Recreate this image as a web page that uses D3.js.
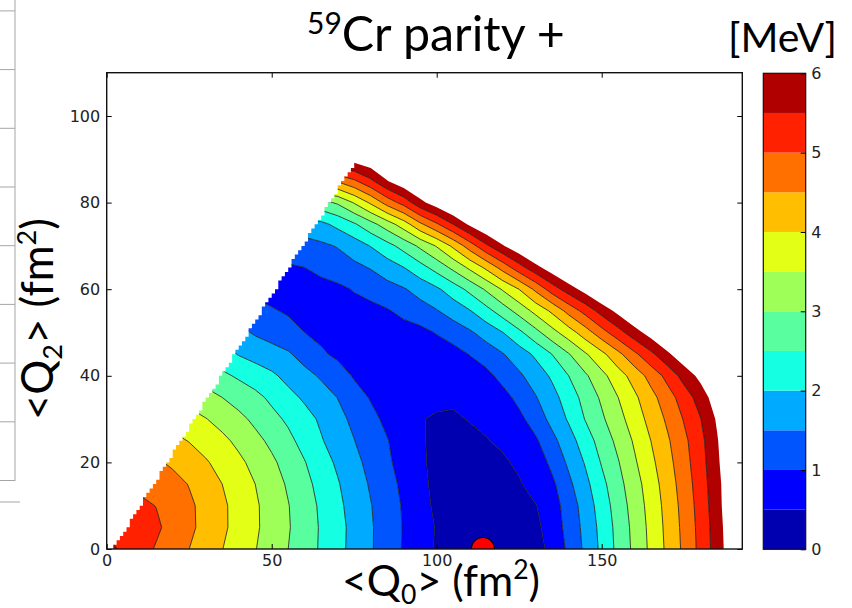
<!DOCTYPE html>
<html>
<head>
<meta charset="utf-8">
<script src="https://cdn.jsdelivr.net/npm/d3@7"></script>
<style>
  body { margin: 0; background: #fff; }
  svg { display: block; }
</style>
</head>
<body>
<svg id="chart" width="852" height="608"></svg>
<script>
// ---------------- data ----------------

// mesh of the energy surface (fm^2)
const q0Grid = [0, 5, 10, 15, 20, 25, 30, 35, 40, 45, 50, 55, 60, 65, 70, 75, 80, 85, 90, 95,
                100, 105, 110, 115, 120, 125, 130, 135, 140, 145, 150, 155, 160, 165, 170, 175, 180, 185, 190];
const q2Grid = [0, 5, 10, 15, 20, 25, 30, 35, 40, 45, 50, 55, 60, 65, 70, 75, 80, 85, 90];

// energy (MeV), one array per <Q2> row, going along <Q0>
const eQ2_00 = [5.65,5.42,5.19,4.96,4.73,4.50,4.26,4.01,3.77,3.52,3.26,3.00,2.72,2.44,2.14,1.85,1.55,1.24,0.96,0.70,0.45,0.20,0.07,0.04,0.08,0.15,0.27,0.68,1.09,1.60,2.11,2.64,3.12,3.62,4.11,4.61,5.15,5.74,6.40];
const eQ2_05 = [5.41,5.37,5.28,5.08,4.84,4.60,4.35,4.09,3.83,3.57,3.31,3.04,2.74,2.45,2.15,1.86,1.55,1.26,0.97,0.70,0.47,0.22,0.09,0.06,0.10,0.18,0.38,0.75,1.15,1.65,2.15,2.67,3.15,3.65,4.14,4.64,5.17,5.76,6.45];
const eQ2_10 = [5.20,5.17,5.10,4.99,4.81,4.58,4.36,4.09,3.82,3.57,3.29,3.02,2.72,2.42,2.11,1.81,1.52,1.24,0.95,0.65,0.42,0.24,0.13,0.10,0.15,0.28,0.48,0.78,1.22,1.72,2.23,2.74,3.21,3.70,4.18,4.68,5.21,5.81,6.50];
const eQ2_15 = [4.99,4.96,4.89,4.79,4.65,4.48,4.24,4.00,3.75,3.50,3.22,2.94,2.64,2.34,2.04,1.73,1.45,1.18,0.89,0.58,0.42,0.27,0.18,0.16,0.26,0.45,0.73,0.90,1.39,1.86,2.36,2.84,3.30,3.77,4.25,4.74,5.26,5.84,6.50];
const eQ2_20 = [4.72,4.70,4.65,4.56,4.43,4.25,4.05,3.83,3.60,3.36,3.09,2.81,2.52,2.21,1.92,1.63,1.36,1.08,0.82,0.55,0.42,0.33,0.27,0.29,0.42,0.60,0.70,1.13,1.59,2.04,2.54,2.97,3.44,3.89,4.34,4.82,5.31,5.90,6.60];
const eQ2_25 = [4.44,4.42,4.36,4.26,4.13,3.98,3.80,3.61,3.39,3.14,2.89,2.62,2.33,2.04,1.76,1.51,1.24,1.02,0.80,0.53,0.44,0.40,0.40,0.47,0.60,0.72,0.93,1.36,1.79,2.25,2.71,3.13,3.57,4.01,4.44,4.89,5.36,5.96,6.65];
const eQ2_30 = [4.08,4.06,4.01,3.92,3.81,3.67,3.52,3.33,3.13,2.89,2.64,2.42,2.18,1.92,1.63,1.40,1.11,0.91,0.72,0.52,0.46,0.45,0.52,0.62,0.75,0.88,1.23,1.65,2.06,2.52,2.92,3.33,3.75,4.17,4.59,5.04,5.49,6.07,6.70];
const eQ2_35 = [3.71,3.70,3.65,3.58,3.48,3.34,3.17,3.00,2.80,2.63,2.40,2.15,1.92,1.70,1.49,1.17,0.97,0.84,0.74,0.64,0.58,0.56,0.60,0.70,0.83,1.14,1.47,1.83,2.24,2.67,3.08,3.50,3.91,4.34,4.79,5.24,5.73,6.30,6.80];
const eQ2_40 = [3.32,3.31,3.26,3.19,3.08,2.95,2.79,2.60,2.43,2.26,2.09,1.85,1.65,1.44,1.19,0.96,0.88,0.80,0.74,0.68,0.65,0.66,0.72,0.86,1.16,1.42,1.73,2.08,2.50,2.92,3.36,3.78,4.21,4.69,5.16,5.70,6.15,6.60,7.05];
const eQ2_45 = [2.89,2.87,2.83,2.76,2.66,2.53,2.38,2.20,1.97,1.82,1.68,1.56,1.30,1.06,0.92,0.85,0.80,0.77,0.74,0.72,0.73,0.82,1.02,1.24,1.47,1.76,2.09,2.51,2.97,3.44,3.87,4.37,4.90,5.39,5.91,6.36,6.80,7.25,7.70];
const eQ2_50 = [2.42,2.41,2.37,2.30,2.21,2.09,1.95,1.80,1.64,1.44,1.32,1.16,1.00,0.90,0.85,0.82,0.80,0.79,0.80,0.86,1.03,1.23,1.43,1.70,1.99,2.39,2.85,3.33,3.77,4.26,4.80,5.31,5.80,6.23,6.68,7.13,7.58,8.03,8.48];
const eQ2_55 = [1.95,1.94,1.90,1.85,1.77,1.67,1.55,1.44,1.33,1.20,1.04,0.95,0.90,0.87,0.85,0.84,0.86,0.96,1.13,1.30,1.47,1.71,1.97,2.33,2.74,3.19,3.65,4.10,4.67,5.17,5.70,6.15,6.60,7.05,7.50,7.95,8.40,8.85,9.30];
const eQ2_60 = [0.95,0.93,0.92,0.90,0.89,0.88,0.87,0.86,0.85,0.84,0.83,0.82,0.82,0.84,0.90,1.03,1.17,1.32,1.46,1.68,1.92,2.25,2.63,3.07,3.55,4.01,4.61,5.25,5.75,6.20,6.65,7.10,7.55,8.00,8.45,8.90,9.35,9.80,10.25];
const eQ2_65 = [1.00,1.00,0.99,0.99,0.98,0.98,0.97,0.97,0.96,0.96,0.95,0.94,1.00,1.13,1.26,1.39,1.53,1.76,1.99,2.32,2.69,3.12,3.60,4.10,4.69,5.30,5.84,6.30,6.75,7.20,7.65,8.10,8.55,9.00,9.45,9.90,10.35,10.80,11.25];
const eQ2_70 = [1.28,1.28,1.28,1.28,1.28,1.28,1.28,1.28,1.28,1.28,1.28,1.28,1.30,1.41,1.53,1.74,2.02,2.33,2.68,3.10,3.54,4.10,4.74,5.40,5.95,6.40,6.85,7.30,7.75,8.20,8.65,9.10,9.55,10.00,10.45,10.90,11.35,11.80,12.25];
const eQ2_75 = [1.80,1.80,1.80,1.80,1.80,1.80,1.80,1.80,1.80,1.80,1.80,1.80,1.80,1.88,2.13,2.44,2.83,3.26,3.76,4.40,4.93,5.50,6.10,6.55,7.00,7.45,7.90,8.35,8.80,9.25,9.70,10.15,10.60,11.05,11.50,11.95,12.40,12.85,13.30];
const eQ2_80 = [2.84,2.84,2.84,2.84,2.84,2.84,2.84,2.84,2.84,2.84,2.84,2.84,2.84,2.84,3.07,3.54,4.08,4.70,5.19,5.85,6.30,6.75,7.20,7.65,8.10,8.55,9.00,9.45,9.90,10.35,10.80,11.25,11.70,12.15,12.60,13.05,13.50,13.95,14.40];
const eQ2_85 = [4.56,4.56,4.56,4.56,4.56,4.56,4.56,4.56,4.56,4.56,4.56,4.56,4.56,4.56,4.56,4.92,5.40,5.98,6.40,6.70,7.00,7.30,7.60,7.90,8.20,8.50,8.80,9.10,9.40,9.70,10.00,10.30,10.60,10.90,11.20,11.50,11.80,12.10,12.40];
const eQ2_90 = [6.20,6.20,6.20,6.20,6.20,6.20,6.20,6.20,6.20,6.20,6.20,6.20,6.20,6.20,6.20,6.20,6.40,6.70,7.00,7.30,7.60,7.90,8.20,8.50,8.80,9.10,9.40,9.70,10.00,10.30,10.60,10.90,11.20,11.50,11.80,12.10,12.40,12.70,13.00];

// filled contour levels (MeV) and the colour bar ticks
const levels = [0, 0.5, 1, 1.5, 2, 2.5, 3, 3.5, 4, 4.5, 5, 5.5, 6];
const colorbarTicks = [0, 1, 2, 3, 4, 5, 6];

// axis ticks
const xTicks = [0, 50, 100, 150];
const yTicks = [0, 20, 40, 60, 80, 100];

// the mesh stops at the gamma = 60 deg line
const wedgeQ0 = [1.5, 74.6];
const wedgeQ2 = [0, 89.2];

// ground state minimum (red dot)
const minimumQ0 = 114;
const minimumQ2 = 0;

// ---------------- layout ----------------

const plot = {left: 106.7, right: 742.3, top: 72.7, bottom: 549};
const bar = {left: 763.3, right: 805.7, top: 73.3, bottom: 549.3};

const x = d3.scaleLinear().domain([0, 192.6]).range([plot.left, plot.right]);
const y = d3.scaleLinear().domain([0, 110]).range([plot.bottom, plot.top]);
const cy = d3.scaleLinear().domain([levels[0], levels[levels.length - 1]]).range([bar.bottom, bar.top]);

// matplotlib "jet"
const jetR = d3.scaleLinear().domain([0, 0.35, 0.66, 0.89, 1]).range([0, 0, 1, 1, 0.5]).clamp(true);
const jetG = d3.scaleLinear().domain([0, 0.125, 0.375, 0.64, 0.91, 1]).range([0, 0, 1, 1, 0, 0]).clamp(true);
const jetB = d3.scaleLinear().domain([0, 0.11, 0.34, 0.65, 1]).range([0.5, 1, 1, 0, 0]).clamp(true);
const jet = t => d3.rgb(255 * jetR(t), 255 * jetG(t), 255 * jetB(t)).formatHex();

const vMin = levels[0], vMax = levels[levels.length - 1];
// colour of the band that starts at level i (middle of the band)
const bandColor = i => jet(((levels[i] + levels[i + 1]) / 2 - vMin) / (vMax - vMin));

const svg = d3.select("#chart");
const defs = svg.append("defs");

defs.append("clipPath").attr("id", "plotClip")
  .append("rect")
  .attr("x", plot.left).attr("y", plot.top)
  .attr("width", plot.right - plot.left).attr("height", plot.bottom - plot.top);

// staircase edge of the masked mesh
const edgeQ0 = q2 => wedgeQ0[0] + (wedgeQ0[1] - wedgeQ0[0]) * (q2 - wedgeQ2[0]) / (wedgeQ2[1] - wedgeQ2[0]);
const wedge = [];
for (let q2 = wedgeQ2[0]; q2 < wedgeQ2[1]; q2 += 1) {
  const top = Math.min(q2 + 1, wedgeQ2[1]);
  const q0 = Math.ceil(edgeQ0((q2 + top) / 2));
  wedge.push([q0, q2], [q0, top]);
}
const lastQ0 = q0Grid[q0Grid.length - 1];
wedge.push([lastQ0, wedgeQ2[1]], [lastQ0, wedgeQ2[0]]);

defs.append("clipPath").attr("id", "wedgeClip")
  .append("path")
  .attr("d", d3.line().x(d => x(d[0])).y(d => y(d[1]))(wedge) + "Z");

// ---------------- contours ----------------

const rows = [eQ2_00, eQ2_05, eQ2_10, eQ2_15, eQ2_20, eQ2_25, eQ2_30, eQ2_35, eQ2_40, eQ2_45,
              eQ2_50, eQ2_55, eQ2_60, eQ2_65, eQ2_70, eQ2_75, eQ2_80, eQ2_85, eQ2_90];
const values = rows.flat();
const nx = q0Grid.length, ny = q2Grid.length;
const dq0 = q0Grid[1] - q0Grid[0], dq2 = q2Grid[1] - q2Grid[0];

// one "value >= level" region per level
const regions = d3.contours().size([nx, ny]).thresholds(levels)(values);

// grid index space -> data -> pixels
const gridToPlot = d3.geoTransform({
  point(gx, gy) {
    this.stream.point(x(q0Grid[0] + (gx - 0.5) * dq0), y(q2Grid[0] + (gy - 0.5) * dq2));
  }
});
const path = d3.geoPath(gridToPlot);

// a band is the region above its lower level with the region above its upper level cut out;
// nothing is drawn above the last level (left blank like the original)
const bandShapes = levels.slice(0, -1).map((lvl, i) => ({
  i,
  d: (path(regions[i]) || "") + (path(regions[i + 1]) || "")
}));

const surface = svg.append("g").attr("clip-path", "url(#wedgeClip)");

surface.selectAll(".band")
  .data(bandShapes)
  .join("path")
  .attr("class", "band")
  .attr("d", d => d.d)
  .attr("fill-rule", "evenodd")
  .attr("fill", d => bandColor(d.i))
  .attr("stroke", "none");

surface.selectAll(".isoline")
  .data(regions.filter(d => d.value > vMin && d.value < vMax))
  .join("path")
  .attr("class", "isoline")
  .attr("d", path)
  .attr("fill", "none")
  .attr("stroke", "#1a1a1a")
  .attr("stroke-width", 0.8)
  .attr("stroke-linejoin", "round");

// minimum marker
svg.append("g").attr("clip-path", "url(#plotClip)")
  .append("circle")
  .attr("cx", x(minimumQ0)).attr("cy", y(minimumQ2))
  .attr("r", 11.5)
  .attr("fill", "#ff0000")
  .attr("stroke", "#000")
  .attr("stroke-width", 1.2);

// ---------------- axes ----------------

const tickFont = "'DejaVu Sans', 'Bitstream Vera Sans', sans-serif";

function styleAxis(g) {
  g.select(".domain").remove();
  g.selectAll(".tick line").attr("stroke", "#000").attr("stroke-width", 1);
  g.selectAll(".tick text")
    .attr("font-family", tickFont)
    .attr("font-size", 16)
    .attr("fill", "#222");
}

svg.append("g")
  .attr("transform", `translate(0,${plot.bottom})`)
  .call(d3.axisBottom(x).tickValues(xTicks).tickSize(-5).tickPadding(6))
  .call(styleAxis);

svg.append("g")
  .attr("transform", `translate(0,${plot.top})`)
  .call(d3.axisTop(x).tickValues(xTicks).tickSize(-5).tickFormat(""))
  .call(styleAxis);

svg.append("g")
  .attr("transform", `translate(${plot.left},0)`)
  .call(d3.axisLeft(y).tickValues(yTicks).tickSize(-5).tickPadding(6.5))
  .call(styleAxis);

svg.append("g")
  .attr("transform", `translate(${plot.right},0)`)
  .call(d3.axisRight(y).tickValues(yTicks).tickSize(-5).tickFormat(""))
  .call(styleAxis);

svg.append("rect")
  .attr("x", plot.left).attr("y", plot.top)
  .attr("width", plot.right - plot.left).attr("height", plot.bottom - plot.top)
  .attr("fill", "none")
  .attr("stroke", "#111")
  .attr("stroke-width", 1.4);

// ---------------- colour bar ----------------

const colorbar = svg.append("g");

colorbar.selectAll("rect.step")
  .data(levels.slice(0, -1))
  .join("rect")
  .attr("class", "step")
  .attr("x", bar.left)
  .attr("width", bar.right - bar.left)
  .attr("y", (d, i) => cy(levels[i + 1]))
  .attr("height", (d, i) => cy(levels[i]) - cy(levels[i + 1]))
  .attr("fill", (d, i) => bandColor(i));

colorbar.append("g")
  .attr("transform", `translate(${bar.right},0)`)
  .call(d3.axisRight(cy).tickValues(colorbarTicks).tickFormat(d3.format("d")).tickSize(-5).tickPadding(5.5))
  .call(styleAxis);

colorbar.append("rect")
  .attr("x", bar.left).attr("y", bar.top)
  .attr("width", bar.right - bar.left).attr("height", bar.bottom - bar.top)
  .attr("fill", "none")
  .attr("stroke", "#111")
  .attr("stroke-width", 1.2);

// ---------------- texts ----------------

const slideFont = "Lato, Carlito, 'Open Sans', sans-serif";

// scale a text so that it spans the given width
function fitWidth(text, width) {
  const size = parseFloat(text.attr("font-size"));
  const w = text.node().getComputedTextLength();
  text.attr("font-size", size * width / w);
}

const title = svg.append("text")
  .attr("x", 307).attr("y", 51)
  .attr("font-family", slideFont)
  .attr("font-size", 50)
  .attr("fill", "#000");
title.append("tspan").attr("font-size", "62%").attr("dy", "-0.55em").text("59");
title.append("tspan").attr("dy", "0.341em").text("Cr parity +");
fitWidth(title, 258);

const unit = svg.append("text")
  .attr("x", 728).attr("y", 52)
  .attr("font-family", slideFont)
  .attr("font-size", 44)
  .attr("fill", "#000")
  .text("[MeV]");
fitWidth(unit, 109);

function axisLabel(sub) {
  const t = svg.append("text")
    .attr("font-family", slideFont)
    .attr("font-size", 46)
    .attr("fill", "#000")
    .attr("text-anchor", "middle");
  t.append("tspan").text("<Q");
  t.append("tspan").attr("font-size", "62%").attr("dy", "0.32em").text(sub);
  t.append("tspan").attr("dy", "-0.2em").text("> (fm");
  t.append("tspan").attr("font-size", "62%").attr("dy", "-0.62em").text("2");
  t.append("tspan").attr("dy", "0.385em").text(")");
  return t;
}

const xLabel = axisLabel("0").attr("x", 441).attr("y", 596);
fitWidth(xLabel, 198);

const yLabel = axisLabel("2").attr("transform", "translate(53,319) rotate(-90)");
fitWidth(yLabel, 202);

// ---------------- slide table fragment on the left ----------------

const table = svg.append("g").attr("stroke", "#a6a6a6").attr("stroke-width", 1);
table.append("line").attr("x1", 15).attr("x2", 15).attr("y1", 0).attr("y2", 481);
for (let k = 0; k < 9; k++) {
  const yy = 10.9 + k * 58.7;
  table.append("line").attr("x1", 0).attr("x2", 15).attr("y1", yy).attr("y2", yy);
}
table.append("line").attr("x1", 0).attr("x2", 20).attr("y1", 502).attr("y2", 502);
</script>
</body>
</html>
